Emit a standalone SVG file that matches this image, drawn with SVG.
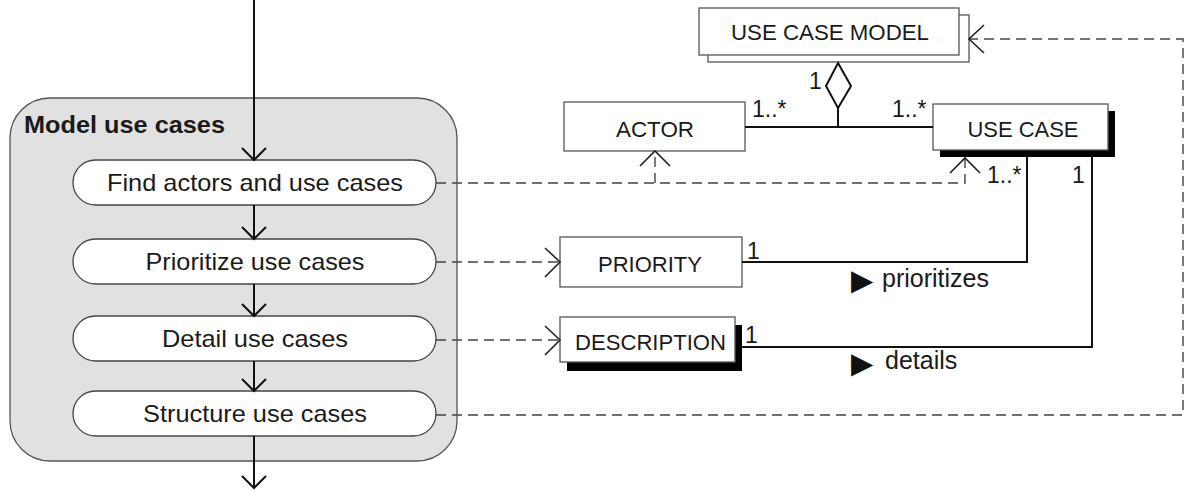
<svg xmlns="http://www.w3.org/2000/svg" width="1188" height="491" viewBox="0 0 1188 491">
<style>
text{font-family:"Liberation Sans",Arial,sans-serif;fill:#1a1a1a}
.pill{fill:#fff;stroke:#444;stroke-width:1.3}
.box{fill:#fff;stroke:#555;stroke-width:1.3}
.shadow{fill:#000}
.solid{fill:none;stroke:#111;stroke-width:2}
.dash{fill:none;stroke:#444;stroke-width:1.4;stroke-dasharray:10,6}
.head{fill:none;stroke:#222;stroke-width:1.6}
.ptxt{font-size:24px}
.btxt{font-size:22px}
.mult{font-size:23px}
.assoc{font-size:25px}
.tri{font-family:"DejaVu Sans",sans-serif;font-size:29px;fill:#111}
</style>
<g id="group-model-use-cases">
<rect x="10" y="98" width="447" height="363" rx="40" ry="40" fill="#e1e1e1" stroke="#555" stroke-width="1.3"/>
<text x="24" y="133" font-weight="bold" font-size="24" textLength="201" lengthAdjust="spacingAndGlyphs">Model use cases</text>
</g>
<g id="node-find">
<rect class="pill" x="73" y="160" width="363" height="45" rx="22.5"/>
<text class="ptxt" x="255" y="191" text-anchor="middle" textLength="296" lengthAdjust="spacingAndGlyphs">Find actors and use cases</text>
</g>
<g id="node-prioritize">
<rect class="pill" x="73" y="239" width="363" height="45" rx="22.5"/>
<text class="ptxt" x="255" y="270" text-anchor="middle" textLength="219" lengthAdjust="spacingAndGlyphs">Prioritize use cases</text>
</g>
<g id="node-detail">
<rect class="pill" x="73" y="316" width="363" height="45" rx="22.5"/>
<text class="ptxt" x="255" y="347" text-anchor="middle" textLength="186" lengthAdjust="spacingAndGlyphs">Detail use cases</text>
</g>
<g id="node-structure">
<rect class="pill" x="73" y="391" width="363" height="45" rx="22.5"/>
<text class="ptxt" x="255" y="422" text-anchor="middle" textLength="224" lengthAdjust="spacingAndGlyphs">Structure use cases</text>
</g>
<g id="node-use-case-model">
<rect class="box" x="708" y="15" width="261" height="47"/>
<rect class="box" x="699" y="8" width="260" height="47"/>
<text class="btxt" x="830" y="40" text-anchor="middle" textLength="198" lengthAdjust="spacingAndGlyphs">USE CASE MODEL</text>
</g>
<g id="node-actor">
<rect class="box" x="564" y="102" width="181" height="49"/>
<text class="btxt" x="655" y="137" text-anchor="middle" textLength="78" lengthAdjust="spacingAndGlyphs">ACTOR</text>
</g>
<g id="node-use-case">
<rect class="shadow" x="940" y="111" width="175" height="46"/>
<rect class="box" x="933" y="104" width="175" height="46"/>
<text class="btxt" x="1023" y="137" text-anchor="middle" textLength="111" lengthAdjust="spacingAndGlyphs">USE CASE</text>
</g>
<g id="node-priority">
<rect class="box" x="560" y="237" width="182" height="50"/>
<text class="btxt" x="650" y="272" text-anchor="middle" textLength="104" lengthAdjust="spacingAndGlyphs">PRIORITY</text>
</g>
<g id="node-description">
<rect class="shadow" x="567" y="325" width="175" height="46"/>
<rect class="box" x="560" y="317" width="175" height="45"/>
<text class="btxt" x="650.5" y="350" text-anchor="middle" textLength="151" lengthAdjust="spacingAndGlyphs">DESCRIPTION</text>
</g>
<g id="connectors">
<path class="solid" d="M254 0V160M242 148L254 160L266 148"/>
<path class="solid" d="M254 205V239M242 227L254 239L266 227"/>
<path class="solid" d="M254 284V316M242 304L254 316L266 304"/>
<path class="solid" d="M254 361V391M242 379L254 391L266 379"/>
<path class="solid" d="M254 436V488M242 476L254 488L266 476"/>
<path class="dash" d="M436 183H965V158"/>
<path class="head" d="M950 173L965 158L980 173"/>
<path class="dash" d="M655 183V152"/>
<path class="head" d="M640 166L655 151L670 166"/>
<path class="dash" d="M436 262H559"/>
<path class="head" d="M545 248L560 262L545 277"/>
<path class="dash" d="M436 340H559"/>
<path class="head" d="M545 326L560 340L545 355"/>
<path class="dash" d="M436 415H1183V39H970"/>
<path class="head" d="M984 25L969 39L984 53"/>
<path d="M838 63L851 86L838 108L826 86Z" fill="#fff" stroke="#111" stroke-width="2"/>
<path class="solid" d="M838 108V127M745 127H933"/>
<path class="solid" d="M1027 157V262H742"/>
<path class="solid" d="M1092 157V347H742"/>
<text class="mult" x="752" y="117">1..*</text>
<text class="mult" x="892" y="117">1..*</text>
<text class="mult" x="809" y="89">1</text>
<text class="mult" x="987" y="183">1..*</text>
<text class="mult" x="1072" y="183">1</text>
<text class="mult" x="747" y="259">1</text>
<text class="mult" x="745" y="343">1</text>
<text class="tri" x="851" y="290">▶</text>
<text class="assoc" x="882" y="287">prioritizes</text>
<text class="tri" x="851" y="373">▶</text>
<text class="assoc" x="885" y="369">details</text>
</g>
</svg>
